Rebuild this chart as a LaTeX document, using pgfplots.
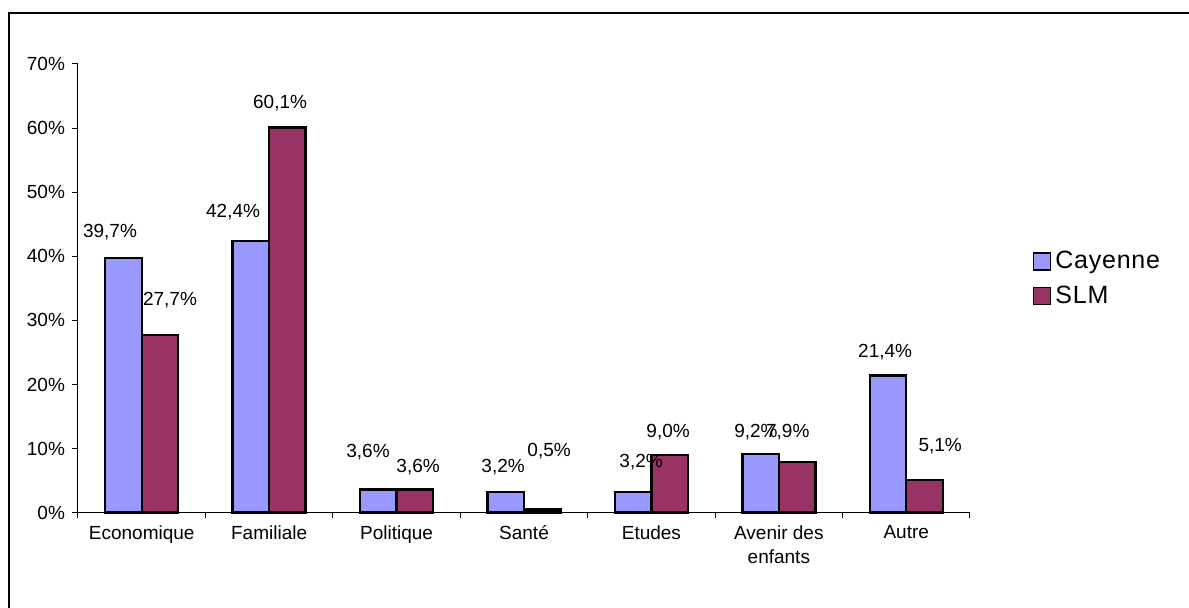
\documentclass[border=0pt]{standalone}
\usepackage{fontspec}
\setmainfont{Liberation Sans}
\newfontfamily\legfont[LetterSpace=3]{Liberation Sans}
\usepackage{pgfplots}
\pgfplotsset{compat=1.18}
\definecolor{cay}{HTML}{9999FF}
\definecolor{slm}{HTML}{993366}

\begin{document}
\begin{tikzpicture}[x=1pt,y=1pt]
% 1 px of the reference = 0.5pt, origin at the axis corner
\useasboundingbox (-39,-47.65) rectangle (555.5,256.35);
\draw[line width=1pt] (-34.5,-49) -- (-34.5,249.85) -- (557,249.85);
\begin{axis}[
    at={(0,0)}, anchor=south west,
    scale only axis, width=446pt, height=224.35pt,
    ymin=0, ymax=70, xmin=-0.5, xmax=6.5,
    axis lines*=left,
    axis line style={line width=0.5pt, black},
    ybar=0pt, bar width=18.25pt,
    ytick={0,10,...,70},
    yticklabel={\pgfmathprintnumber{\tick}\%},
    xtick={0,...,6},
    xticklabels={Economique,Familiale,Politique,Santé,Etudes,{Avenir des\\enfants},Autre},
    minor xtick={-0.5,0.5,...,6.5},
    tick align=outside,
    major tick length=3pt, minor tick length=2.5pt,
    tick style={black, line width=0.5pt},
    major x tick style={draw=none},
    ticklabel style={font=\fontsize{9.5}{12}\selectfont},
    xticklabel style={align=center},
    /pgf/number format/assume math mode=true,
    clip=false,
    legend style={draw=none, fill=none, at={(1.07,0.521)}, anchor=west,
        font=\legfont\fontsize{12.5}{14}\selectfont, row sep=3pt, inner xsep=0pt},
    legend cell align=left,
    legend image code/.code={\draw[#1, line width=0.8pt] (-2.5pt,-4.25pt) rectangle (6pt,4.25pt);},
]
\addplot[fill=cay, draw=black, line width=1.2pt] coordinates
    {(0,39.7) (1,42.4) (2,3.6) (3,3.2) (4,3.2) (5,9.2) (6,21.4)};
\addplot[fill=slm, draw=black, line width=1.2pt] coordinates
    {(0,27.7) (1,60.1) (2,3.6) (3,0.5) (4,9.0) (5,7.9) (6,5.1)};
\legend{Cayenne,SLM}
% value labels, placed as in the reference
\begin{scope}[every node/.style={font=\fontsize{9.5}{12}\selectfont}]
\node at (axis cs:-0.249,43.8) {39,7\%};
\node at (axis cs:0.717,46.9) {42,4\%};
\node at (axis cs:1.776,9.47) {3,6\%};
\node at (axis cs:2.836,7.13) {3,2\%};
\node at (axis cs:3.919,7.91) {3,2\%};
\node at (axis cs:4.82,12.59) {9,2\%};
\node at (axis cs:5.07,12.59) {7,9\%};
\node at (axis cs:5.834,25.07) {21,4\%};
\node at (axis cs:0.222,33.18) {27,7\%};
\node at (axis cs:1.086,63.9) {60,1\%};
\node at (axis cs:2.169,7.13) {3,6\%};
\node at (axis cs:3.197,9.63) {0,5\%};
\node at (axis cs:4.131,12.59) {9,0\%};
\node at (axis cs:6.266,10.4) {5,1\%};
\end{scope}
\end{axis}
\end{tikzpicture}
\end{document}
